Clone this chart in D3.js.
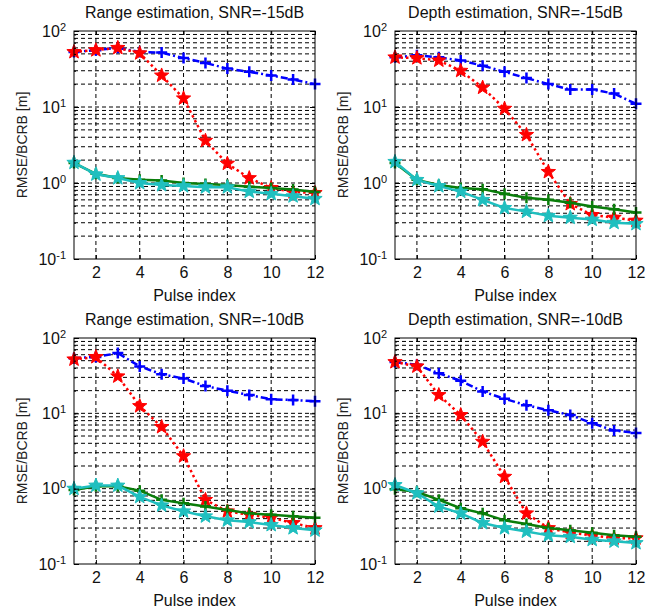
<!DOCTYPE html>
<html>
<head>
<meta charset="utf-8">
<script src="https://cdn.jsdelivr.net/npm/d3@7/dist/d3.min.js"></script>
<style>
  body { margin: 0; background: #fff; }
</style>
</head>
<body>
<div id="chart"></div>
<script>
// pulse index on the x axis
const pulses = [1, 2, 3, 4, 5, 6, 7, 8, 9, 10, 11, 12];
const xTicks = [2, 4, 6, 8, 10, 12];
const yTicks = [0.1, 1, 10, 100];

const titles = [
  "Range estimation, SNR=-15dB",
  "Depth estimation, SNR=-15dB",
  "Range estimation, SNR=-10dB",
  "Depth estimation, SNR=-10dB"
];

// range, -15dB
const range15Blue  = [53, 56, 60, 53, 52, 44, 38, 32, 29, 26, 23, 20];
const range15Red   = [53, 56, 60, 51, 26, 13, 3.6, 1.8, 1.16, 0.86, 0.76, 0.74];
const range15Green = [1.83, 1.32, 1.16, 1.1, 1.08, 1.0, 0.97, 0.94, 0.89, 0.86, 0.82, 0.76];
const range15Cyan  = [1.85, 1.3, 1.16, 1.0, 0.94, 0.91, 0.88, 0.88, 0.77, 0.72, 0.67, 0.62];

// depth, -15dB
const depth15Blue  = [45, 48, 45, 41, 35, 29, 24, 20, 17, 17, 15, 11];
const depth15Red   = [45, 44, 41, 30, 18, 9.5, 4.3, 1.4, 0.53, 0.38, 0.35, 0.32];
const depth15Green = [1.83, 1.1, 0.94, 0.86, 0.83, 0.72, 0.64, 0.6, 0.55, 0.49, 0.45, 0.41];
const depth15Cyan  = [1.9, 1.1, 0.91, 0.77, 0.6, 0.47, 0.42, 0.37, 0.35, 0.33, 0.3, 0.29];

// range, -10dB
const range10Blue  = [54, 56, 63, 42, 33, 29, 23, 20, 17.5, 15.4, 15, 14.5];
const range10Red   = [52, 56, 31, 12.5, 6.6, 2.7, 0.71, 0.5, 0.45, 0.41, 0.35, 0.3];
const range10Green = [0.96, 1.08, 1.08, 0.94, 0.71, 0.64, 0.58, 0.52, 0.47, 0.45, 0.43, 0.41];
const range10Cyan  = [1.0, 1.1, 1.1, 0.78, 0.6, 0.5, 0.43, 0.38, 0.36, 0.33, 0.3, 0.28];

// depth, -10dB
const depth10Blue  = [48, 44, 34, 27, 19.5, 15.6, 12.8, 11, 9.5, 7.4, 5.9, 5.5];
const depth10Red   = [48, 42, 17.5, 9.5, 4.2, 1.44, 0.47, 0.3, 0.26, 0.24, 0.22, 0.22];
const depth10Green = [0.98, 0.91, 0.71, 0.55, 0.47, 0.38, 0.34, 0.3, 0.28, 0.26, 0.24, 0.23];
const depth10Cyan  = [1.12, 0.87, 0.58, 0.47, 0.35, 0.3, 0.27, 0.24, 0.23, 0.21, 0.2, 0.19];

const panelSeries = [
  [range15Blue, range15Red, range15Green, range15Cyan],
  [depth15Blue, depth15Red, depth15Green, depth15Cyan],
  [range10Blue, range10Red, range10Green, range10Cyan],
  [depth10Blue, depth10Red, depth10Green, depth10Cyan]
];

// blue -.+, red :p, green -+, cyan -p
const styles = [
  { color: "#0000ff", dash: "7,3,2,3", marker: "plus" },
  { color: "#ff0000", dash: "2.5,3",   marker: "star" },
  { color: "#0a7d0a", dash: null,      marker: "plus" },
  { color: "#1fbfbf", dash: null,      marker: "star" }
];

const w = 654, h = 613;
// left, right, top, bottom of each axes box
const boxes = [
  [74, 315, 31, 259],
  [395, 636, 31, 259],
  [74, 315, 338, 564],
  [395, 636, 338, 564]
];

const svg = d3.select("#chart")
  .append("svg")
  .attr("width", w)
  .attr("height", h)
  .style("font-family", "Arial, 'Liberation Sans', sans-serif");

function pentagram(r) {
  const pts = [];
  for (let k = 0; k < 10; k++) {
    const rr = k % 2 === 0 ? r : r * 0.42;
    const a = -Math.PI / 2 + k * Math.PI / 5;
    pts.push([rr * Math.cos(a), rr * Math.sin(a)]);
  }
  return "M" + pts.map(p => p[0].toFixed(2) + "," + p[1].toFixed(2)).join("L") + "Z";
}

function plus(r) {
  return `M${-r},0H${r}M0,${-r}V${r}`;
}

boxes.forEach((box, i) => {
  const [l, r, t, b] = box;
  const x = d3.scaleLinear().domain([1, 12]).range([l, r]);
  const y = d3.scaleLog().domain([0.1, 100]).range([b, t]);
  const g = svg.append("g");

  // grid
  const yMinor = y.ticks().filter(v => v > 0.1 + 1e-9 && v < 100 - 1e-9);
  g.selectAll(".gy").data(yMinor).enter().append("line")
    .attr("x1", l).attr("x2", r)
    .attr("y1", d => y(d)).attr("y2", d => y(d))
    .attr("stroke", "#000").attr("stroke-width", 1)
    .attr("stroke-dasharray", "4,3");
  g.selectAll(".gx").data(xTicks.filter(v => v < 12)).enter().append("line")
    .attr("x1", d => x(d)).attr("x2", d => x(d))
    .attr("y1", t).attr("y2", b)
    .attr("stroke", "#000").attr("stroke-width", 1)
    .attr("stroke-dasharray", "4,3");

  // series
  const line = d3.line().x((d, k) => x(pulses[k])).y(d => y(d));
  panelSeries[i].forEach((vals, s) => {
    const st = styles[s];
    g.append("path")
      .attr("d", line(vals))
      .attr("fill", "none")
      .attr("stroke", st.color)
      .attr("stroke-width", 2.5)
      .attr("stroke-dasharray", st.dash);
    g.selectAll(".m" + s).data(vals).enter().append("path")
      .attr("transform", (d, k) => `translate(${x(pulses[k])},${y(d)})`)
      .attr("d", st.marker === "star" ? pentagram(7.5) : plus(5.5))
      .attr("fill", st.marker === "star" ? st.color : "none")
      .attr("stroke", st.color)
      .attr("stroke-width", st.marker === "star" ? 1 : 2.5);
  });

  // box
  g.append("rect")
    .attr("x", l).attr("y", t)
    .attr("width", r - l).attr("height", b - t)
    .attr("fill", "none").attr("stroke", "#000").attr("stroke-width", 1);

  // axes with inward ticks
  const xa = g.append("g").attr("transform", `translate(0,${b})`)
    .call(d3.axisBottom(x).tickValues(xTicks).tickSize(-4).tickPadding(8));
  g.append("g").attr("transform", `translate(0,${t})`)
    .call(d3.axisTop(x).tickValues(xTicks).tickSize(-4).tickFormat(""));
  const ya = g.append("g").attr("transform", `translate(${l},0)`)
    .call(d3.axisLeft(y).tickValues(yTicks).tickSize(-5).tickPadding(8).tickFormat(() => "10"));
  g.append("g").attr("transform", `translate(${l},0)`)
    .call(d3.axisLeft(y).tickValues(yMinor).tickSize(-2).tickFormat(""));
  g.append("g").attr("transform", `translate(${r},0)`)
    .call(d3.axisRight(y).tickValues(yTicks).tickSize(-5).tickFormat(""));

  [xa, ya].forEach(a => {
    a.selectAll("text").attr("fill", "#111").style("font-size", "16px");
  });
  g.selectAll(".domain").remove();

  ya.selectAll(".tick text").each(function(d) {
    d3.select(this).append("tspan")
      .attr("dy", "-0.55em")
      .style("font-size", "11px")
      .text(Math.round(Math.log10(d)));
  });

  // labels
  g.append("text")
    .attr("x", (l + r) / 2).attr("y", t - 13)
    .attr("text-anchor", "middle")
    .style("font-size", "16px").attr("fill", "#111")
    .text(titles[i]);
  g.append("text")
    .attr("x", (l + r) / 2).attr("y", b + 42)
    .attr("text-anchor", "middle")
    .style("font-size", "16px").attr("fill", "#111")
    .text("Pulse index");
  g.append("text")
    .attr("transform", `translate(${l - 47},${(t + b) / 2}) rotate(-90)`)
    .attr("text-anchor", "middle")
    .style("font-size", "14px").attr("fill", "#222")
    .text("RMSE/BCRB [m]");
});
</script>
</body>
</html>
